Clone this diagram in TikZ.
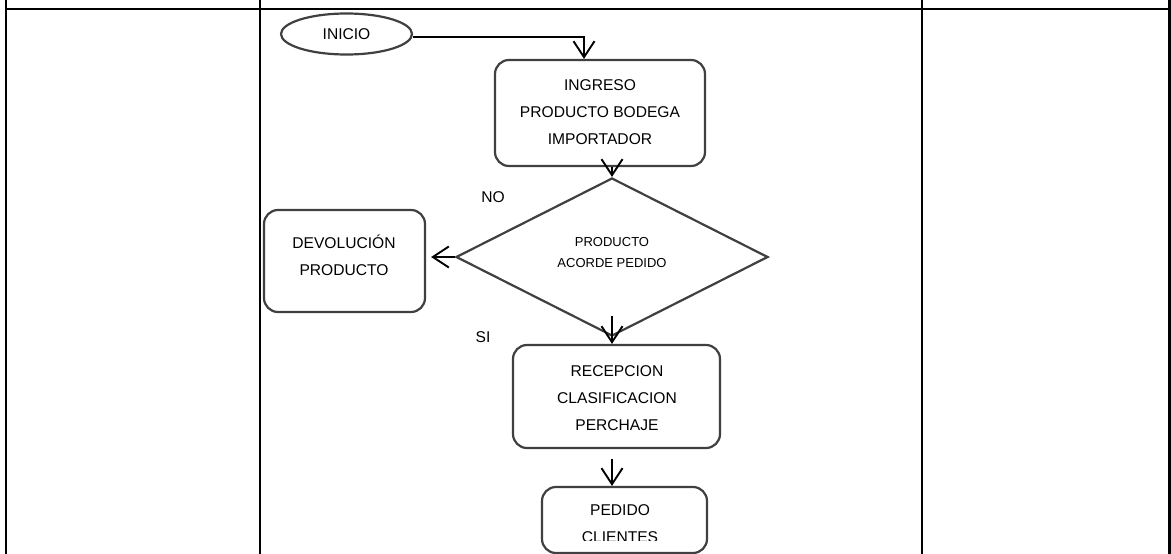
\documentclass[tikz,border=0pt]{standalone}
\usepackage{fontspec}
\setmainfont{Liberation Sans}
\usetikzlibrary{arrows.meta,shapes.geometric}
\definecolor{shapegray}{RGB}{64,64,64}
\begin{document}
\begin{tikzpicture}[x=1pt,y=-1pt,
  grid/.style={line width=2.4pt,black},
  shapebox/.style={draw=shapegray,line width=2.2pt,rounded corners=14pt,inner sep=0pt},
  decision/.style={diamond,draw=shapegray,line width=2.2pt,inner sep=0pt},
  terminal/.style={ellipse,draw=shapegray,line width=2.2pt,inner sep=0pt},
  arr/.style={draw=black,line width=1.9pt,-{Straight Barb[length=16pt,width=21pt]}},
  txt/.style={font=\fontsize{15.6}{27}\selectfont,align=center,inner sep=0pt},
  smalltxt/.style={font=\fontsize{13}{21}\selectfont,align=center,inner sep=0pt}]

% canvas
\fill[white] (0,0) rectangle (1171,554);
\useasboundingbox (0,0) rectangle (1171,554);

% table frame
\draw[grid] (6,9) -- (1169.5,9);
\foreach \cx in {6,260,922,1169.5}
  \draw[grid] (\cx,0) -- (\cx,554);

% shapes
\node[terminal,minimum width=131pt,minimum height=41pt] (ini) at (346.5,34) {};
\node[txt] (init) at (ini.center) {INICIO};

\node[shapebox,minimum width=210pt,minimum height=106pt] (ing) at (600,113) {};
\node[txt] (ingt) at (600,112) {INGRESO\\PRODUCTO BODEGA\\IMPORTADOR};

\node[decision,minimum width=312pt,minimum height=158pt] (dec) at (612,257) {};
\node[smalltxt] (dect) at (612,253) {PRODUCTO\\ACORDE PEDIDO};

\node[shapebox,minimum width=161pt,minimum height=102pt] (dev) at (344.5,261) {};
\node[txt] (devt) at (344,255) {DEVOLUCIÓN\\PRODUCTO};

\node[shapebox,minimum width=207pt,minimum height=103pt] (rec) at (616.5,396.5) {};
\node[txt] (rect) at (617,398) {RECEPCION\\CLASIFICACION\\PERCHAJE};

\node[shapebox,minimum width=165pt,minimum height=66pt] (ped) at (624.5,520) {};
\begin{scope}
  \clip (540,485) rectangle (710,540);
  \node[txt] (pedt) at (620,523.5) {PEDIDO\\CLIENTES};
\end{scope}

% branch labels
\node[txt] (no) at (493,197) {NO};
\node[txt] (si) at (483,337) {SI};

% connectors
\draw[arr] ([yshift=-3pt]ini.east) -| ([xshift=-16pt]ing.north);
\draw[arr] ([xshift=12pt]ing.south) -- (dec.north);
\draw[arr] (dec.west) -- ([xshift=5pt]dev.east |- dec.west);
\draw[arr] ([yshift=21pt]dec.south) -- (dec.south |- rec.north);
\draw[arr,shorten <=10pt] ([xshift=-4.5pt]rec.south) -- ([xshift=-4.5pt]rec.south |- ped.north);
\end{tikzpicture}
\end{document}
